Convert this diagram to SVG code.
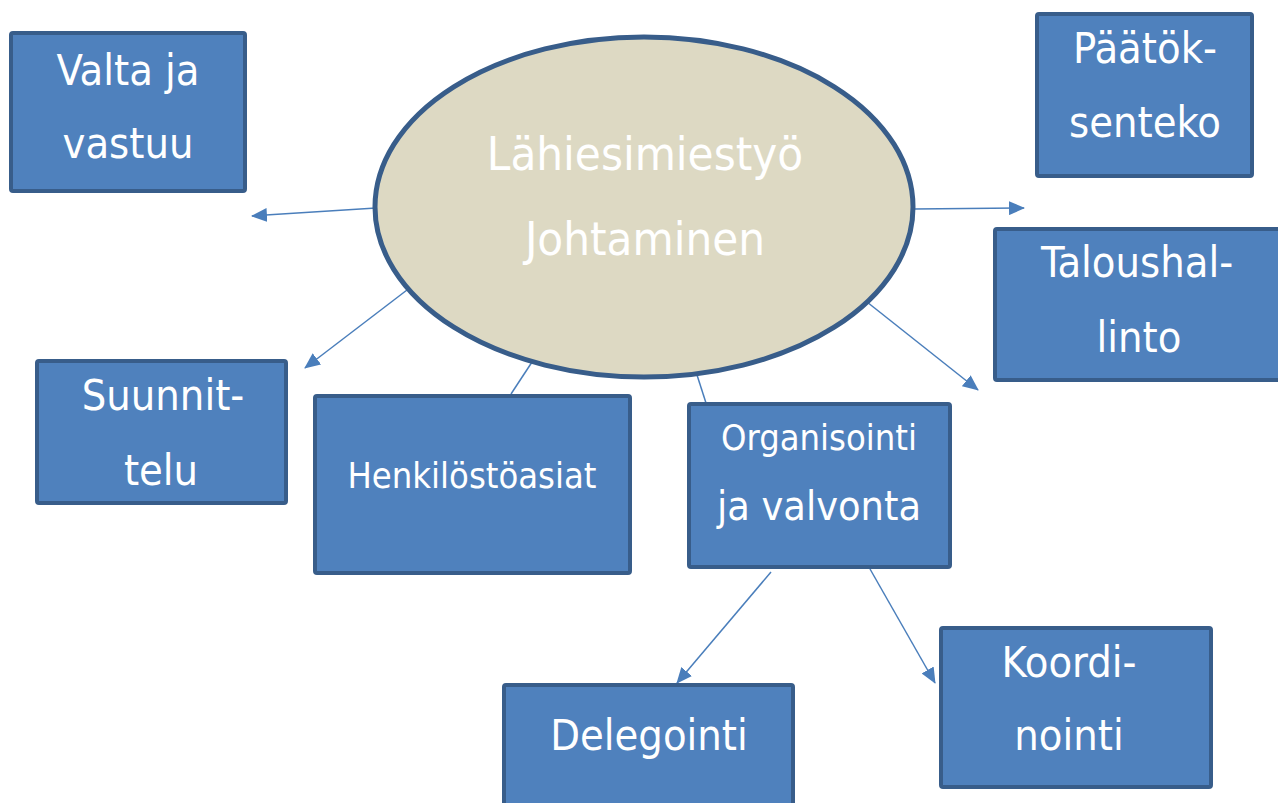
<svg xmlns="http://www.w3.org/2000/svg" width="1278" height="803" viewBox="0 0 1278 803">
<defs>
<marker id="ah" markerUnits="userSpaceOnUse" markerWidth="16" markerHeight="14" refX="15" refY="7" orient="auto">
<path d="M0,0 L16,7 L0,14 Z" fill="#4A7EBB"/>
</marker>
</defs>
<style>
.box{fill:#4F81BD;stroke:#385D8A;stroke-width:4}
.t{fill:#FFFFFF;font-family:"DejaVu Sans Condensed","DejaVu Sans",sans-serif;text-anchor:middle}
.c{stroke:#4A7EBB;stroke-width:1.5;fill:none}
</style>
<rect width="1278" height="803" fill="#FFFFFF"/>
<g id="connectors">
<line class="c" x1="376" y1="208" x2="252" y2="216" marker-end="url(#ah)"/>
<line class="c" x1="914" y1="209" x2="1024" y2="208" marker-end="url(#ah)"/>
<line class="c" x1="867" y1="302" x2="978" y2="390" marker-end="url(#ah)"/>
<line class="c" x1="407" y1="290" x2="305" y2="368" marker-end="url(#ah)"/>
<line class="c" x1="534" y1="359" x2="511" y2="394"/>
<line class="c" x1="697" y1="375" x2="706" y2="403"/>
<line class="c" x1="771" y1="572" x2="677" y2="683" marker-end="url(#ah)"/>
<line class="c" x1="870" y1="569" x2="935" y2="683" marker-end="url(#ah)"/>
</g>
<g id="center">
<ellipse cx="644" cy="207" rx="269" ry="170" fill="#DDD9C3" stroke="#385D8A" stroke-width="5"/>
<text class="t" x="645" y="170" font-size="47">Lähiesimiestyö</text>
<text class="t" x="645" y="255" font-size="47">Johtaminen</text>
</g>
<g id="valta">
<rect class="box" x="11" y="33" width="234" height="158" rx="2"/>
<text class="t" x="128" y="85" font-size="43">Valta ja</text>
<text class="t" x="128" y="158" font-size="43">vastuu</text>
</g>
<g id="paatok">
<rect class="box" x="1037" y="14" width="215" height="162" rx="2"/>
<text class="t" x="1145" y="63" font-size="43">Päätök-</text>
<text class="t" x="1145" y="137" font-size="43">senteko</text>
</g>
<g id="talous">
<rect class="box" x="995" y="229" width="290" height="151" rx="2"/>
<text class="t" x="1137" y="277" font-size="43">Taloushal-</text>
<text class="t" x="1139" y="352" font-size="43">linto</text>
</g>
<g id="suunnittelu">
<rect class="box" x="37" y="361" width="249" height="142" rx="2"/>
<text class="t" x="163" y="410" font-size="43">Suunnit-</text>
<text class="t" x="161" y="485" font-size="43">telu</text>
</g>
<g id="henkilosto">
<rect class="box" x="315" y="396" width="315" height="177" rx="2"/>
<text class="t" x="472" y="488" font-size="36">Henkilöstöasiat</text>
</g>
<g id="organisointi">
<rect class="box" x="689" y="404" width="261" height="163" rx="2"/>
<text class="t" x="819" y="450" font-size="36">Organisointi</text>
<text class="t" x="819" y="520" font-size="41">ja valvonta</text>
</g>
<g id="delegointi">
<rect class="box" x="504" y="685" width="289" height="130" rx="2"/>
<text class="t" x="649" y="750" font-size="43">Delegointi</text>
</g>
<g id="koordinointi">
<rect class="box" x="941" y="628" width="270" height="159" rx="2"/>
<text class="t" x="1069" y="677" font-size="43">Koordi-</text>
<text class="t" x="1069" y="750" font-size="43">nointi</text>
</g>
</svg>
